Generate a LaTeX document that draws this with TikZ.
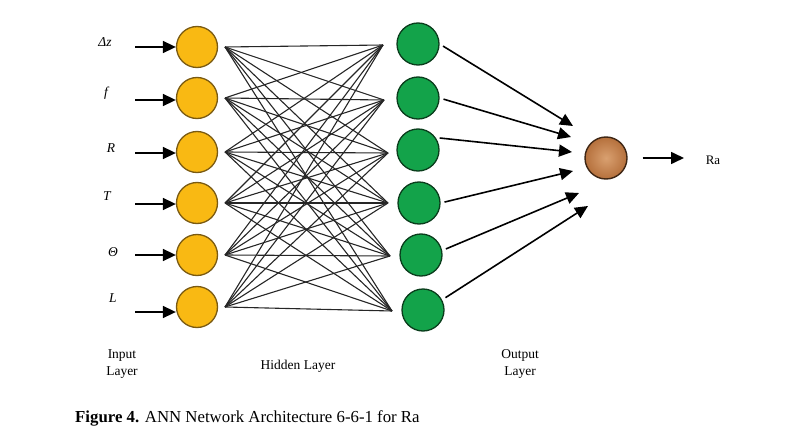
\documentclass[tikz,border=0pt]{standalone}
\usepackage{fontspec}
\setmainfont{Liberation Serif}
\usetikzlibrary{arrows.meta}
\definecolor{inyellow}{HTML}{F9B913}
\definecolor{inborder}{HTML}{7A5A12}
\definecolor{hidgreen}{HTML}{13A34A}
\definecolor{hidborder}{HTML}{0A3D1C}
\definecolor{outin}{HTML}{D9A070}
\definecolor{outout}{HTML}{B5703C}
\definecolor{outborder}{HTML}{3E2614}
\tikzset{
  inneuron/.style={circle, draw=inborder, fill=inyellow, line width=1.3pt, minimum size=41pt, inner sep=0pt},
  hidneuron/.style={circle, draw=hidborder, fill=hidgreen, line width=1.3pt, minimum size=42pt, inner sep=0pt},
  outneuron/.style={circle, draw=outborder, inner color=outin, outer color=outout, line width=1.4pt, minimum size=42pt, inner sep=0pt},
  link/.style={line width=1.1pt, black!85},
  bigarrow/.style={line width=1.6pt, -{Triangle[length=13pt,width=12pt]}},
  varlabel/.style={font=\fontsize{13.5}{15}\selectfont\itshape, inner sep=0pt},
  layerlabel/.style={font=\fontsize{13.5}{17}\selectfont, align=center, inner sep=0pt},
}
\begin{document}
\begin{tikzpicture}[x=1pt, y=-1pt]
\useasboundingbox (0,0) rectangle (809,436);
% input layer
\foreach \k/\y in {1/47, 2/98, 3/152, 4/203, 5/255, 6/307}{
  \node[inneuron] (i\k) at (197,\y) {};
  \coordinate (il\k) at (225,\y);
}
% hidden layer
\foreach \k/\x/\y in {1/418/44, 2/418/98, 3/418/150, 4/419/203, 5/421/255, 6/423/310}{
  \node[hidneuron] (h\k) at (\x,\y) {};
}
\foreach \k/\x/\y in {1/383/45, 2/384/100, 3/388/153, 4/388/203, 5/390/256, 6/392/311}{
  \coordinate (hr\k) at (\x,\y);
}
% output
\node[outneuron] (o) at (606,158) {};
% full connections input -> hidden
\foreach \a in {1,...,6}{
  \foreach \b in {1,...,6}{
    \draw[link] (il\a) -- (hr\b);
  }
}
% input arrows and labels
\foreach \k/\y in {1/47, 2/100, 3/153, 4/204, 5/255, 6/312}{
  \coordinate (a\k) at (135,\y);
  \draw[bigarrow] (a\k) -- (i\k.west |- a\k);
}
\node[varlabel] (l1) at (105,42) {Δz};
\node[varlabel] (l2) at (106,93) {f};
\node[varlabel] (l3) at (111,148) {R};
\node[varlabel] (l4) at (107,196) {T};
\node[varlabel] (l5) at (113,252) {Θ};
\node[varlabel] (l6) at (113,298) {L};
% hidden -> output arrows
\foreach \k/\x/\y/\ang in {1/573/126/0, 2/571/137/0, 3/572/152/35, 4/573/171/0, 5/579/193/12, 6/588/206/28}{
  \coordinate (t\k) at (\x,\y);
  \draw[bigarrow, shorten <=4pt] (h\k.\ang) -- (t\k);
}
% output arrow
\coordinate (ra) at (684,158);
\draw[bigarrow, shorten <=15pt] (o) -- (ra);
\node[font=\fontsize{13}{15}\selectfont, inner sep=0pt] (ralabel) at (713,160) {Ra};
% layer labels
\node[layerlabel] (inlab) at (122,364) {Input\\Layer};
\node[layerlabel] (hidlab) at (298,366) {Hidden Layer};
\node[layerlabel] (outlab) at (520,364) {Output\\Layer};
% caption
\node[anchor=base west, inner sep=0pt, font=\fontsize{16.8}{19}\selectfont] (cap) at (75,422) {\textbf{Figure 4.} ANN Network Architecture 6-6-1 for Ra};
\end{tikzpicture}
\end{document}
